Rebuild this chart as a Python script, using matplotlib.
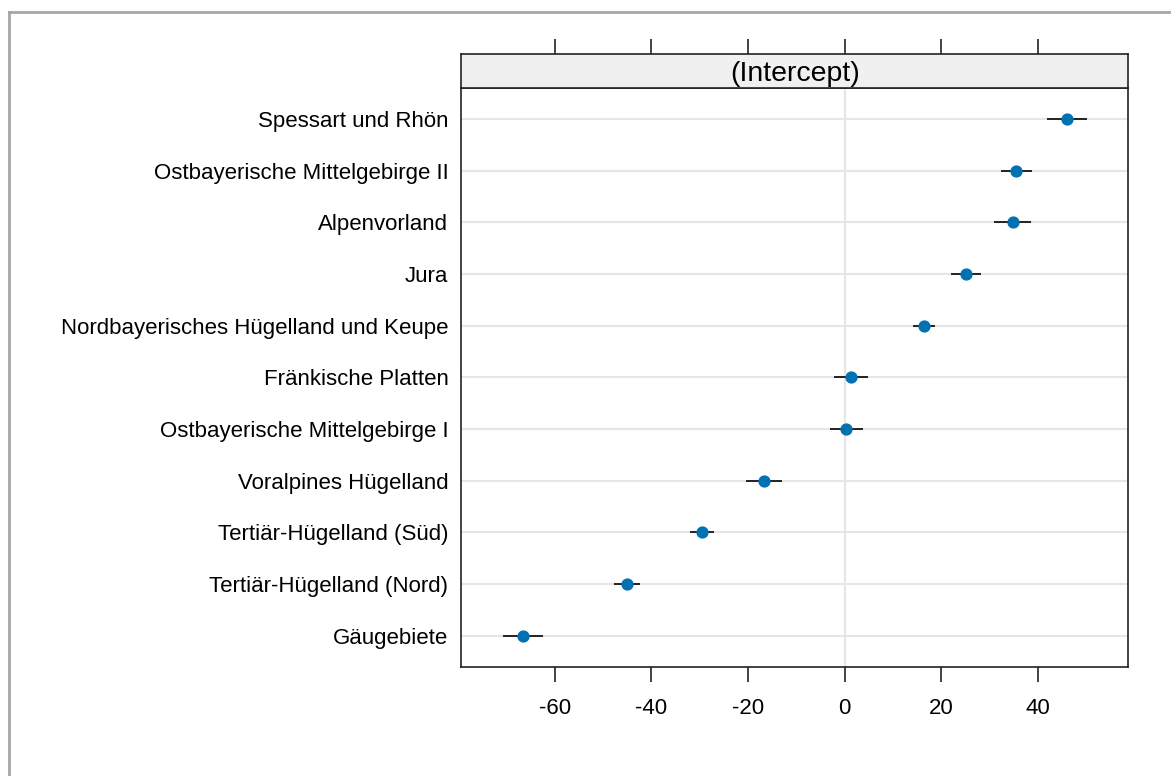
import matplotlib
matplotlib.use("Agg")
import matplotlib.pyplot as plt
from matplotlib.lines import Line2D
import numpy as np

plt.rcParams["font.family"] = ["Liberation Sans", "DejaVu Sans"]

regions = [
    "Spessart und Rhön",
    "Ostbayerische Mittelgebirge II",
    "Alpenvorland",
    "Jura",
    "Nordbayerisches Hügelland und Keupe",
    "Fränkische Platten",
    "Ostbayerische Mittelgebirge I",
    "Voralpines Hügelland",
    "Tertiär-Hügelland (Süd)",
    "Tertiär-Hügelland (Nord)",
    "Gäugebiete",
]
intercept = [46.0, 35.5, 34.8, 25.2, 16.4, 1.4, 0.3, -16.7, -29.6, -45.1, -66.6]
half_width = [4.2, 3.2, 3.8, 3.1, 2.3, 3.5, 3.4, 3.7, 2.5, 2.7, 4.2]
xticks = [-60, -40, -20, 0, 20, 40]

fig = plt.figure(figsize=(11.71, 7.76), dpi=100)

ax = fig.add_axes([0.3941, 0.1409, 0.5694, 0.7457])
strip = fig.add_axes([0.3941, 0.8866, 0.5694, 0.0438], sharex=ax)

n = len(regions)
ypos = np.arange(n)[::-1] + 1
vals = np.array(intercept)
err = np.array(half_width)

ax.hlines(ypos, -200, 200, color="#e6e6e6", lw=1.5, zorder=0)
ax.axvline(0, color="#e6e6e6", lw=1.5, zorder=0)
ax.hlines(ypos, vals - err, vals + err, color="#222222", lw=1.4, zorder=2)
ax.plot(vals, ypos, "o", color="#0072B2", ms=7.8, mec="#0072B2", zorder=3)

ax.set_xlim(-79.3, 58.7)
ax.set_ylim(0.4, n + 0.6)
ax.set_yticks(ypos)
ax.set_yticklabels(regions, fontsize=16)
ax.tick_params(axis="y", length=0, pad=9.4)
ax.set_xticks(xticks)
ax.set_xticklabels([str(t) for t in xticks], fontsize=16)
ax.tick_params(axis="x", direction="out", length=10.5, width=1.2, pad=12, colors="#222222", labelcolor="black")
for sp in ax.spines.values():
    sp.set_linewidth(1.2)
    sp.set_color("#222222")

strip.set_facecolor("#f0f0f0")
strip.set_ylim(0, 1)
strip.set_yticks([])
strip.xaxis.tick_top()
strip.tick_params(axis="x", direction="out", length=10.5, width=1.2, labeltop=False, labelbottom=False, colors="#222222")
strip.text(0.5, 0.4, "(Intercept)", transform=strip.transAxes, ha="center", va="center", fontsize=20.5)
for sp in strip.spines.values():
    sp.set_linewidth(1.2)
    sp.set_color("#222222")

# frame edges along top and left
fig.add_artist(Line2D([9 / 1171, 9 / 1171], [0, 1 - 12 / 776], color="#a6a6a6", lw=2, transform=fig.transFigure))
fig.add_artist(Line2D([9 / 1171, 1], [1 - 12 / 776, 1 - 12 / 776], color="#a6a6a6", lw=2, transform=fig.transFigure))

fig.savefig("out.png", dpi=100, facecolor="white")
